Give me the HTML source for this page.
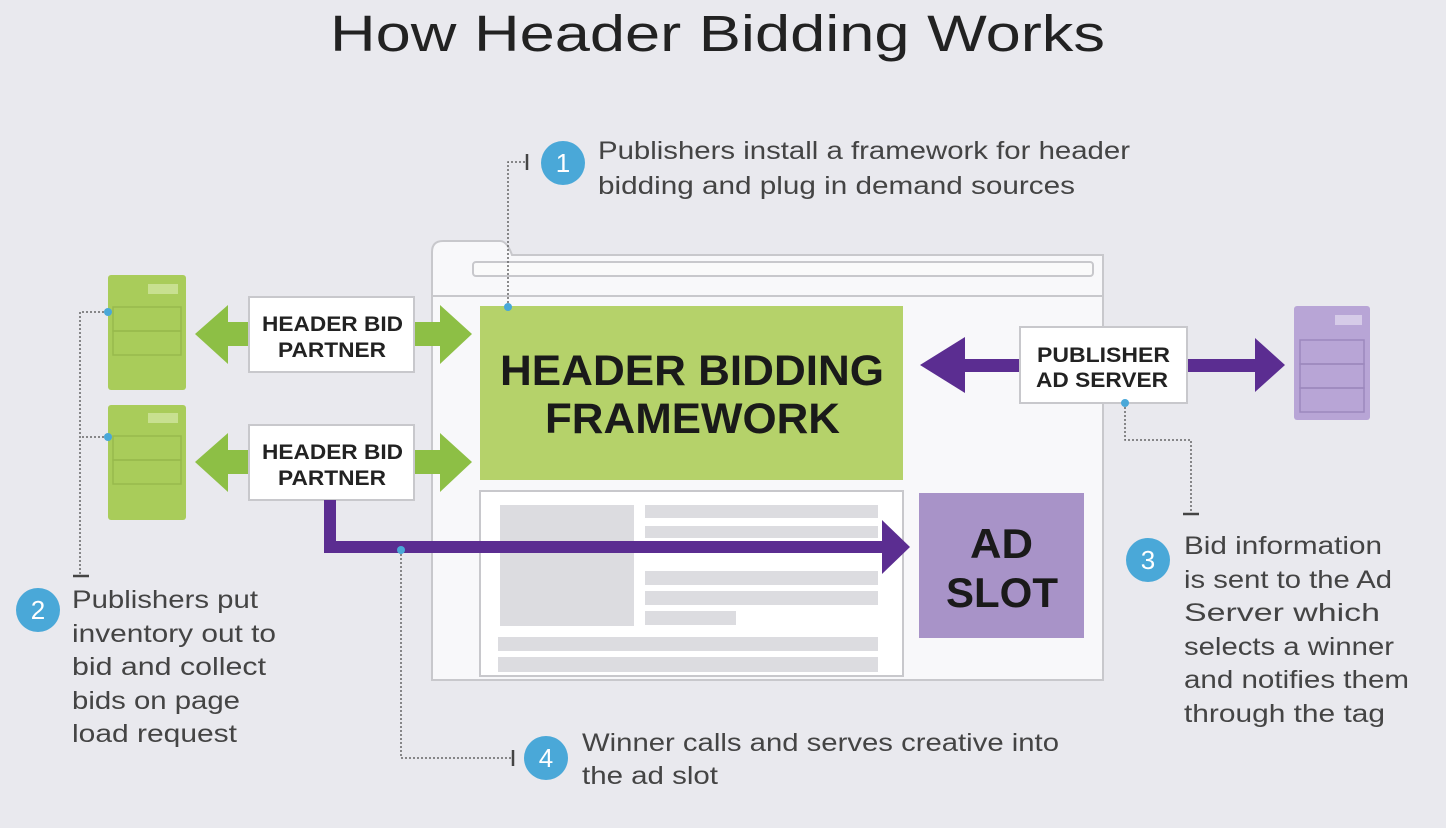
<!DOCTYPE html>
<html><head><meta charset="utf-8"><style>
html,body{margin:0;padding:0;background:#e9e9ee;}
svg{display:block;font-family:"Liberation Sans",sans-serif;}
</style></head><body>
<svg width="1446" height="828" viewBox="0 0 1446 828" xmlns="http://www.w3.org/2000/svg">
<rect width="1446" height="828" fill="#e9e9ee"/>
<text x="330" y="51" font-size="51" fill="#222" textLength="775" lengthAdjust="spacingAndGlyphs">How Header Bidding Works</text>

<!-- browser -->
<path d="M432,680 V252 Q432,241 443,241 H500 Q507,241 512,255 H1103 V680 Z" fill="#f8f8fa" stroke="#c8c8cc" stroke-width="2"/>
<rect x="473" y="262" width="620" height="14" rx="3" fill="#fafafa" stroke="#c8c8cc" stroke-width="2"/>
<line x1="432" y1="296" x2="1103" y2="296" stroke="#c8c8cc" stroke-width="2"/>

<rect x="480" y="306" width="423" height="174" fill="#b5d26a"/>
<text x="500" y="385" font-size="43" font-weight="bold" fill="#1a1a1a" textLength="384" lengthAdjust="spacingAndGlyphs">HEADER BIDDING</text>
<text x="545" y="433" font-size="43" font-weight="bold" fill="#1a1a1a" textLength="295" lengthAdjust="spacingAndGlyphs">FRAMEWORK</text>

<rect x="480" y="491" width="423" height="185" fill="#fff" stroke="#c8c8cc" stroke-width="2"/>
<rect x="500" y="505" width="134" height="121" fill="#dcdce0"/>
<g fill="#dcdce0">
<rect x="645" y="505" width="233" height="13"/><rect x="645" y="526" width="233" height="12"/>
<rect x="645" y="571" width="233" height="14"/><rect x="645" y="591" width="233" height="14"/>
<rect x="645" y="611" width="91" height="14"/>
<rect x="498" y="637" width="380" height="14"/><rect x="498" y="657" width="380" height="15"/>
</g>

<rect x="919" y="493" width="165" height="145" fill="#a893c8"/>
<text x="970" y="558" font-size="42" font-weight="bold" fill="#1a1a1a" textLength="63" lengthAdjust="spacingAndGlyphs">AD</text>
<text x="946" y="607" font-size="42" font-weight="bold" fill="#1a1a1a" textLength="112" lengthAdjust="spacingAndGlyphs">SLOT</text>

<!-- green servers -->
<g>
<rect x="108" y="275" width="78" height="115" rx="3" fill="#a9cc5a"/>
<rect x="148" y="284" width="30" height="10" fill="#c8e090"/>
<rect x="113" y="307" width="68" height="24" fill="none" stroke="#97ba4c" stroke-width="1.5"/>
<rect x="113" y="331" width="68" height="24" fill="none" stroke="#97ba4c" stroke-width="1.5"/>
<rect x="108" y="405" width="78" height="115" rx="3" fill="#a9cc5a"/>
<rect x="148" y="413" width="30" height="10" fill="#c8e090"/>
<rect x="113" y="436" width="68" height="24" fill="none" stroke="#97ba4c" stroke-width="1.5"/>
<rect x="113" y="460" width="68" height="24" fill="none" stroke="#97ba4c" stroke-width="1.5"/>
</g>

<!-- green arrows -->
<g fill="#8dbf45">
<polygon points="195,334 228,305 228,322 252,322 252,346 228,346 228,364"/>
<polygon points="472,334 440,305 440,322 414,322 414,346 440,346 440,364"/>
<polygon points="195,462 228,433 228,450 252,450 252,474 228,474 228,492"/>
<polygon points="472,462 440,433 440,450 414,450 414,474 440,474 440,492"/>
</g>
<g font-size="21" font-weight="bold" fill="#222">
<rect x="249" y="297" width="165" height="75" fill="#fff" stroke="#c8c8cc" stroke-width="2"/>
<text x="262" y="331" textLength="141" lengthAdjust="spacingAndGlyphs">HEADER BID</text><text x="278" y="357" textLength="108" lengthAdjust="spacingAndGlyphs">PARTNER</text>
<rect x="249" y="425" width="165" height="75" fill="#fff" stroke="#c8c8cc" stroke-width="2"/>
<text x="262" y="459" textLength="141" lengthAdjust="spacingAndGlyphs">HEADER BID</text><text x="278" y="485" textLength="108" lengthAdjust="spacingAndGlyphs">PARTNER</text>
</g>

<!-- purple winner arrow -->
<polyline points="330,500 330,547 885,547" fill="none" stroke="#5b2d91" stroke-width="12"/>
<polygon points="882,520 910,547 882,574" fill="#5b2d91"/>

<!-- publisher ad server -->
<rect x="965" y="359" width="60" height="13" fill="#5b2d91"/>
<polygon points="920,365 965,337 965,393" fill="#5b2d91"/>
<rect x="1185" y="359" width="75" height="13" fill="#5b2d91"/>
<polygon points="1285,365 1255,338 1255,392" fill="#5b2d91"/>
<rect x="1020" y="327" width="167" height="76" fill="#fff" stroke="#c8c8cc" stroke-width="2"/>
<text x="1037" y="362" font-size="21" font-weight="bold" fill="#222" textLength="133" lengthAdjust="spacingAndGlyphs">PUBLISHER</text>
<text x="1036" y="387" font-size="21" font-weight="bold" fill="#222" textLength="132" lengthAdjust="spacingAndGlyphs">AD SERVER</text>

<rect x="1294" y="306" width="76" height="114" rx="3" fill="#b8a5d6"/>
<rect x="1335" y="315" width="27" height="10" fill="#d6cbe8"/>
<rect x="1300" y="340" width="64" height="24" fill="none" stroke="#9c88bd" stroke-width="1.5"/>
<rect x="1300" y="364" width="64" height="24" fill="none" stroke="#9c88bd" stroke-width="1.5"/>
<rect x="1300" y="388" width="64" height="24" fill="none" stroke="#9c88bd" stroke-width="1.5"/>

<!-- dotted connectors -->
<g fill="none" stroke="#666" stroke-width="1.5" stroke-dasharray="2,2">
<polyline points="508,307 508,162 525,162"/>
<polyline points="108,312 80,312 80,575"/>
<polyline points="108,437 80,437"/>
<polyline points="1125,403 1125,440 1191,440 1191,512"/>
<polyline points="401,550 401,758 512,758"/>
</g>
<g stroke="#444" stroke-width="2.5">
<line x1="527" y1="154" x2="527" y2="170"/>
<line x1="73" y1="576" x2="89" y2="576"/>
<line x1="1183" y1="514" x2="1199" y2="514"/>
<line x1="513" y1="750" x2="513" y2="766"/>
</g>
<g fill="#4aa8d8">
<circle cx="508" cy="307" r="4"/><circle cx="108" cy="312" r="4"/><circle cx="108" cy="437" r="4"/>
<circle cx="1125" cy="403" r="4"/><circle cx="401" cy="550" r="4"/>
</g>

<!-- callouts -->
<g font-size="25" fill="#444">
<circle cx="563" cy="163" r="22" fill="#4aa8d8"/><text x="563" y="172" fill="#fff" text-anchor="middle" font-size="26">1</text>
<text x="598" y="159" textLength="532" lengthAdjust="spacingAndGlyphs">Publishers install a framework for header</text>
<text x="598" y="194" textLength="477" lengthAdjust="spacingAndGlyphs">bidding and plug in demand sources</text>

<circle cx="38" cy="610" r="22" fill="#4aa8d8"/><text x="38" y="619" fill="#fff" text-anchor="middle" font-size="26">2</text>
<text x="72" y="608" textLength="186" lengthAdjust="spacingAndGlyphs">Publishers put</text>
<text x="72" y="642" textLength="204" lengthAdjust="spacingAndGlyphs">inventory out to</text>
<text x="72" y="675" textLength="194" lengthAdjust="spacingAndGlyphs">bid and collect</text>
<text x="72" y="709" textLength="168" lengthAdjust="spacingAndGlyphs">bids on page</text>
<text x="72" y="742" textLength="165" lengthAdjust="spacingAndGlyphs">load request</text>

<circle cx="1148" cy="560" r="22" fill="#4aa8d8"/><text x="1148" y="569" fill="#fff" text-anchor="middle" font-size="26">3</text>
<text x="1184" y="554" textLength="198" lengthAdjust="spacingAndGlyphs">Bid information</text>
<text x="1184" y="588" textLength="208" lengthAdjust="spacingAndGlyphs">is sent to the Ad</text>
<text x="1184" y="621" textLength="196" lengthAdjust="spacingAndGlyphs">Server which</text>
<text x="1184" y="655" textLength="210" lengthAdjust="spacingAndGlyphs">selects a winner</text>
<text x="1184" y="688" textLength="225" lengthAdjust="spacingAndGlyphs">and notifies them</text>
<text x="1184" y="722" textLength="201" lengthAdjust="spacingAndGlyphs">through the tag</text>

<circle cx="546" cy="758" r="22" fill="#4aa8d8"/><text x="546" y="767" fill="#fff" text-anchor="middle" font-size="26">4</text>
<text x="582" y="751" textLength="477" lengthAdjust="spacingAndGlyphs">Winner calls and serves creative into</text>
<text x="582" y="784" textLength="136" lengthAdjust="spacingAndGlyphs">the ad slot</text>
</g>
</svg>
</body></html>
